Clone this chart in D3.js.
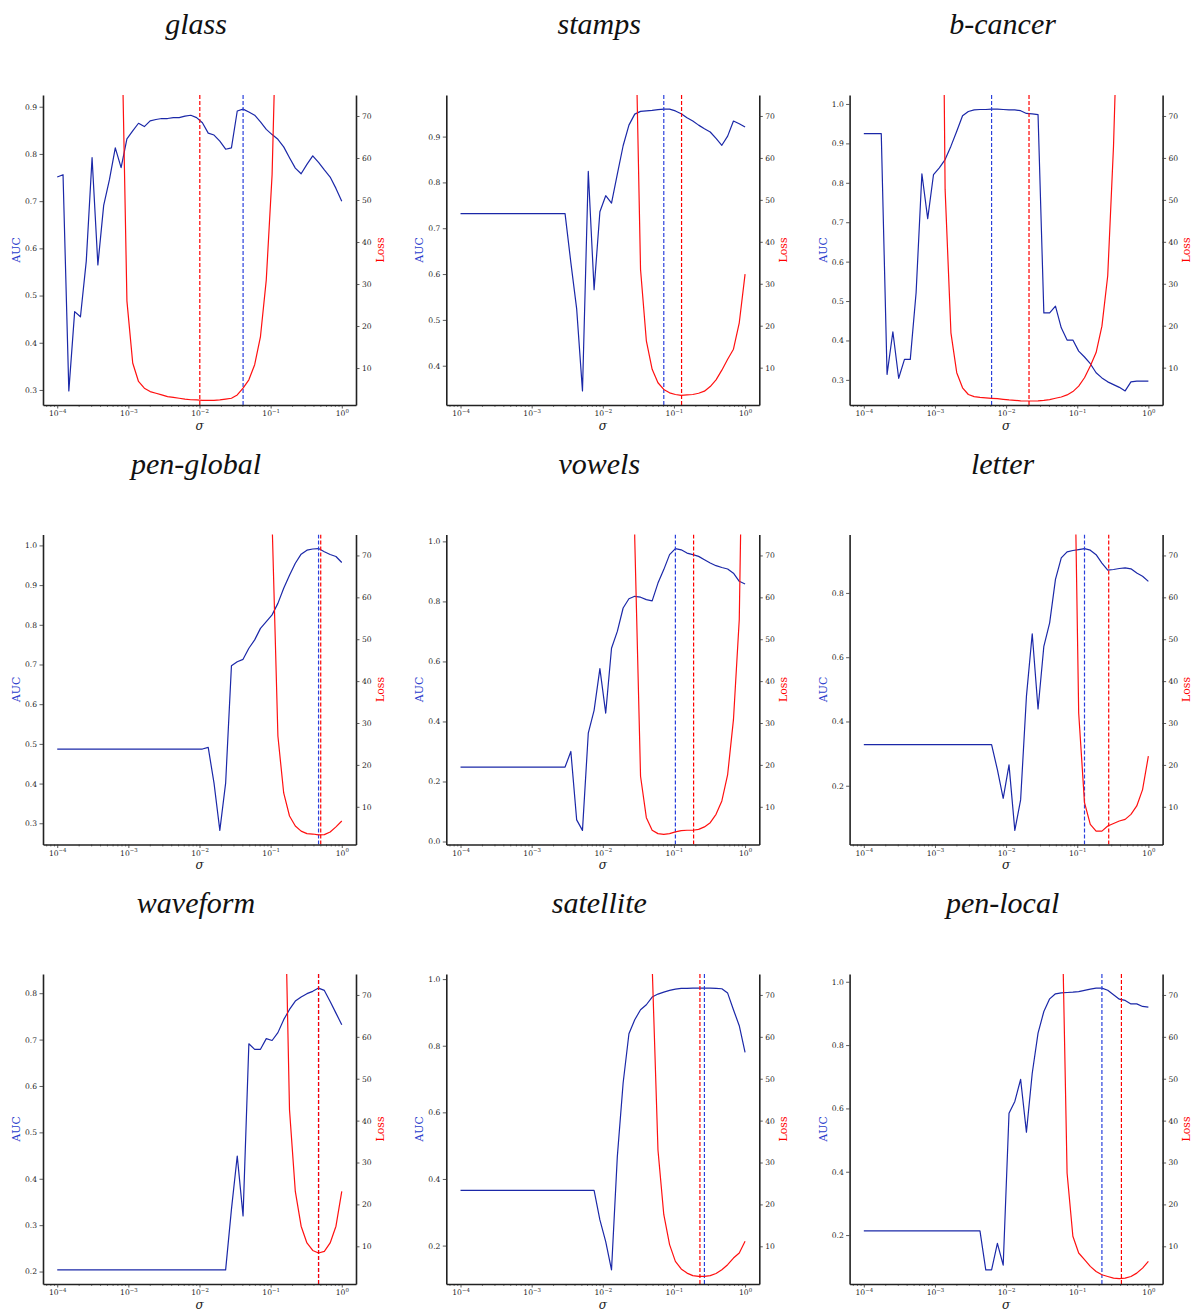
<!DOCTYPE html>
<html>
<head>
<meta charset="utf-8">
<script src="https://cdn.jsdelivr.net/npm/d3@7"></script>
<style>
  body { margin: 0; background: #fff; }
  svg { display: block; }
</style>
</head>
<body>
<svg id="fig" width="1192" height="1310"></svg>
<script>
// Kernel width grid (50 log-spaced values from 1e-4 to 1)
const sigma = [
  1.000e-4, 1.207e-4, 1.456e-4, 1.758e-4, 2.121e-4, 2.560e-4, 3.089e-4, 3.728e-4, 4.498e-4, 5.429e-4,
  6.551e-4, 7.906e-4, 9.541e-4, 1.151e-3, 1.389e-3, 1.677e-3, 2.024e-3, 2.442e-3, 2.947e-3, 3.556e-3,
  4.292e-3, 5.179e-3, 6.251e-3, 7.543e-3, 9.103e-3, 1.099e-2, 1.326e-2, 1.600e-2, 1.931e-2, 2.330e-2,
  2.812e-2, 3.393e-2, 4.095e-2, 4.942e-2, 5.964e-2, 7.197e-2, 8.685e-2, 1.048e-1, 1.265e-1, 1.526e-1,
  1.842e-1, 2.223e-1, 2.683e-1, 3.237e-1, 3.907e-1, 4.715e-1, 5.690e-1, 6.866e-1, 8.286e-1, 1.000
];

const datasets = ["glass", "stamps", "b-cancer", "pen-global", "vowels", "letter", "waveform", "satellite", "pen-local"];

// AUC per sigma
const aucGlass = [
  0.751,0.756,0.298,0.466,0.455,0.573,0.792,0.565,0.691,0.746,
  0.813,0.771,0.832,0.849,0.865,0.858,0.870,0.873,0.875,0.875,
  0.877,0.877,0.880,0.882,0.877,0.866,0.844,0.840,0.827,0.810,
  0.813,0.891,0.895,0.889,0.882,0.868,0.852,0.841,0.831,0.815,
  0.792,0.770,0.758,0.778,0.796,0.782,0.766,0.751,0.727,0.700
];
const aucStamps = [
  0.732,0.732,0.732,0.732,0.732,0.732,0.732,0.732,0.732,0.732,
  0.732,0.732,0.732,0.732,0.732,0.732,0.732,0.732,0.732,0.625,
  0.524,0.345,0.824,0.566,0.736,0.771,0.755,0.818,0.880,0.925,
  0.949,0.955,0.956,0.957,0.959,0.960,0.960,0.956,0.950,0.941,
  0.934,0.925,0.917,0.910,0.896,0.881,0.901,0.934,0.928,0.921
];
const aucBcancer = [
  0.925,0.925,0.925,0.925,0.314,0.422,0.304,0.352,0.352,0.521,
  0.823,0.709,0.821,0.838,0.859,0.893,0.931,0.970,0.981,0.985,
  0.986,0.986,0.987,0.987,0.986,0.985,0.985,0.983,0.976,0.975,
  0.973,0.470,0.470,0.487,0.432,0.401,0.401,0.373,0.358,0.341,
  0.318,0.305,0.295,0.288,0.281,0.272,0.295,0.297,0.297,0.297
];
const aucPenGlobal = [
  0.487,0.487,0.487,0.487,0.487,0.487,0.487,0.487,0.487,0.487,
  0.487,0.487,0.487,0.487,0.487,0.487,0.487,0.487,0.487,0.487,
  0.487,0.487,0.487,0.487,0.487,0.487,0.491,0.401,0.282,0.401,
  0.697,0.707,0.713,0.741,0.762,0.791,0.808,0.825,0.854,0.892,
  0.925,0.955,0.978,0.988,0.991,0.992,0.984,0.977,0.972,0.957
];
const aucVowels = [
  0.248,0.248,0.248,0.248,0.248,0.248,0.248,0.248,0.248,0.248,
  0.248,0.248,0.248,0.248,0.248,0.248,0.248,0.248,0.248,0.300,
  0.072,0.037,0.361,0.437,0.576,0.428,0.644,0.700,0.778,0.809,
  0.817,0.814,0.806,0.802,0.861,0.906,0.956,0.976,0.972,0.961,
  0.956,0.950,0.939,0.928,0.919,0.913,0.908,0.894,0.867,0.858
];
const aucLetter = [
  0.328,0.328,0.328,0.328,0.328,0.328,0.328,0.328,0.328,0.328,
  0.328,0.328,0.328,0.328,0.328,0.328,0.328,0.328,0.328,0.328,
  0.328,0.328,0.328,0.250,0.161,0.265,0.061,0.156,0.478,0.673,
  0.439,0.634,0.707,0.842,0.909,0.928,0.932,0.935,0.938,0.933,
  0.919,0.893,0.871,0.873,0.876,0.878,0.875,0.862,0.852,0.836
];
const aucWaveform = [
  0.2035,0.2035,0.2035,0.2035,0.2035,0.2035,0.2035,0.2035,0.2035,0.2035,
  0.2035,0.2035,0.2035,0.2035,0.2035,0.2035,0.2035,0.2035,0.2035,0.2035,
  0.2035,0.2035,0.2035,0.2035,0.2035,0.2035,0.2035,0.2035,0.2035,0.2035,
  0.334,0.449,0.320,0.691,0.679,0.679,0.702,0.698,0.715,0.743,
  0.765,0.783,0.792,0.799,0.804,0.811,0.806,0.782,0.757,0.732
];
const aucSatellite = [
  0.366,0.366,0.366,0.366,0.366,0.366,0.366,0.366,0.366,0.366,
  0.366,0.366,0.366,0.366,0.366,0.366,0.366,0.366,0.366,0.366,
  0.366,0.366,0.366,0.366,0.277,0.212,0.127,0.467,0.688,0.836,
  0.878,0.908,0.923,0.946,0.955,0.961,0.966,0.970,0.972,0.972,
  0.973,0.973,0.973,0.973,0.972,0.971,0.958,0.908,0.860,0.780
];
const aucPenLocal = [
  0.213,0.213,0.213,0.213,0.213,0.213,0.213,0.213,0.213,0.213,
  0.213,0.213,0.213,0.213,0.213,0.213,0.213,0.213,0.213,0.213,
  0.213,0.090,0.090,0.174,0.105,0.585,0.622,0.692,0.525,0.711,
  0.838,0.906,0.946,0.962,0.965,0.966,0.967,0.969,0.973,0.977,
  0.980,0.980,0.973,0.959,0.945,0.941,0.930,0.930,0.922,0.920
];

// Loss per sigma (null where the loss was not recorded / far off the axis)
const lossGlass = [
  null,null,null,null,null,null,null,null,null,null,
  null,100,26,11.2,6.8,5.2,4.4,4.0,3.6,3.2,
  3.0,2.8,2.6,2.45,2.4,2.3,2.3,2.3,2.4,2.6,
  2.8,3.6,5.2,7.2,10.8,17.5,31,56,110,null,
  null,null,null,null,null,null,null,null,null,null
];
const lossStamps = [
  null,null,null,null,null,null,null,null,null,null,
  null,null,null,null,null,null,null,null,null,null,
  null,null,null,null,null,null,null,null,null,null,
  103,33.4,16.4,9.6,6.4,4.8,4.0,3.6,3.4,3.5,
  3.6,3.9,4.4,5.5,7.1,9.4,12,14.4,20.7,32.3
];
const lossBcancer = [
  null,null,null,null,null,null,null,null,null,null,
  null,null,null,200,52.5,18.3,8.8,5.2,3.6,3.1,
  2.9,2.8,2.7,2.6,2.45,2.3,2.2,2.1,2.05,2.05,
  2.1,2.2,2.4,2.7,3.0,3.5,4.3,5.6,7.6,10.4,
  13.6,19.9,31.9,62.9,110,null,null,null,null,null
];
const lossPenGlobal = [
  null,null,null,null,null,null,null,null,null,null,
  null,null,null,null,null,null,null,null,null,null,
  null,null,null,null,null,null,null,null,null,null,
  null,null,null,null,null,null,150,78,26.9,13.3,
  7.8,5.4,4.2,3.6,3.5,3.3,3.35,4.0,5.2,6.6
];
const lossVowels = [
  null,null,null,null,null,null,null,null,null,null,
  null,null,null,null,null,null,null,null,null,null,
  null,null,null,null,null,null,null,null,null,200,
  74,17.3,7.4,4.4,3.6,3.4,3.6,4.0,4.3,4.4,
  4.4,4.6,5.2,6.2,8.2,11.4,17.7,30.8,54.7,143
];
const lossLetter = [
  null,null,null,null,null,null,null,null,null,null,
  null,null,null,null,null,null,null,null,null,null,
  null,null,null,null,null,null,null,null,null,null,
  null,null,null,null,null,null,121,32.4,11,5.8,
  4.2,4.2,5.4,6.0,6.6,7.0,8.2,10.2,14.1,22.1
];
const lossWaveform = [
  null,null,null,null,null,null,null,null,null,null,
  null,null,null,null,null,null,null,null,null,null,
  null,null,null,null,null,null,null,null,null,null,
  null,null,null,null,null,null,null,null,null,110,
  42.6,23.1,14.8,10.8,9.0,8.4,8.8,10.8,14.8,23.1
];
const lossSatellite = [
  null,null,null,null,null,null,null,null,null,null,
  null,null,null,null,null,null,null,null,null,null,
  null,null,null,null,null,null,null,null,null,null,
  null,null,140,77,33,17.6,10.4,6.4,4.6,3.6,
  3.0,2.8,2.8,3.0,3.5,4.4,5.6,7.2,8.4,11.2
];
const lossPenLocal = [
  null,null,null,null,null,null,null,null,null,null,
  null,null,null,null,null,null,null,null,null,null,
  null,null,null,null,null,null,null,null,null,null,
  null,null,null,null,100,27.5,12.4,8.4,6.8,5.2,
  4.0,3.2,2.8,2.4,2.3,2.4,2.8,3.6,4.8,6.4
];

// Selected sigma values (dashed markers)
const bestAucSigma  = [0.0410, 0.0720, 0.00625, 0.4715, 0.1048, 0.1265, 0.4715, 0.2683, 0.2223];
const bestLossSigma = [0.0101, 0.128, 0.021, 0.506, 0.189, 0.277, 0.4715, 0.232, 0.418];

// Axis ticks
const aucTicks = [
  [0.3, 0.4, 0.5, 0.6, 0.7, 0.8, 0.9],
  [0.4, 0.5, 0.6, 0.7, 0.8, 0.9],
  [0.3, 0.4, 0.5, 0.6, 0.7, 0.8, 0.9, 1.0],
  [0.3, 0.4, 0.5, 0.6, 0.7, 0.8, 0.9, 1.0],
  [0.0, 0.2, 0.4, 0.6, 0.8, 1.0],
  [0.2, 0.4, 0.6, 0.8],
  [0.2, 0.3, 0.4, 0.5, 0.6, 0.7, 0.8],
  [0.2, 0.4, 0.6, 0.8, 1.0],
  [0.2, 0.4, 0.6, 0.8, 1.0]
];
const lossTicks = [10, 20, 30, 40, 50, 60, 70];
const lossFloor = [1.2, 1.1, 1.1, 1.0, 1.0, 1.0, 1.0, 1.0, 1.0];
const lossCeil = 75;
const xTickExponents = [-4, -3, -2, -1, 0];

const aucSeries  = [aucGlass, aucStamps, aucBcancer, aucPenGlobal, aucVowels, aucLetter, aucWaveform, aucSatellite, aucPenLocal];
const lossSeries = [lossGlass, lossStamps, lossBcancer, lossPenGlobal, lossVowels, lossLetter, lossWaveform, lossSatellite, lossPenLocal];

const AUC_LINE = "#1b28a8", AUC_DASH = "#2a40dc", AUC_LABEL = "#2a3ccc";
const LOSS_LINE = "#ff1010", LOSS_DASH = "#ff0000";
const TICK_FONT = "DejaVu Serif";
const TICK_COLOR = "#262626";
const TICK_SIZE = 7.6;

const svg = d3.select("#fig");
const W = 313, H = 310;

function styleAxis(g) {
  g.selectAll(".domain").attr("stroke", "#222").attr("stroke-width", 1.6);
  g.selectAll(".tick line").attr("stroke", "#333").attr("stroke-width", 0.8);
  g.selectAll(".tick text").attr("fill", TICK_COLOR)
    .attr("font-family", TICK_FONT).attr("font-size", TICK_SIZE);
}

datasets.forEach((name, i) => {
  const col = i % 3, row = Math.floor(i / 3);
  const left = 43 + 403.3 * col;
  const top = 95 + 439.5 * row;
  const g = svg.append("g").attr("transform", `translate(${left},${top})`);

  const x = d3.scaleLog().domain([Math.pow(10, -4.2), Math.pow(10, 0.2)]).range([0, W]);
  const ext = d3.extent(aucSeries[i]);
  const pad = 0.05 * (ext[1] - ext[0]);
  const yA = d3.scaleLinear().domain([ext[0] - pad, ext[1] + pad]).range([H, 0]);
  const yL = d3.scaleLinear().domain([lossFloor[i], lossCeil]).range([H, 0]);

  const clipId = "clip" + i;
  g.append("clipPath").attr("id", clipId)
    .append("rect").attr("x", 0).attr("y", 0).attr("width", W).attr("height", H);
  const plot = g.append("g").attr("clip-path", `url(#${clipId})`);

  // AUC curve
  const aucLine = d3.line().x((d, k) => x(sigma[k])).y(d => yA(d));
  plot.append("path").datum(aucSeries[i])
    .attr("d", aucLine).attr("fill", "none")
    .attr("stroke", AUC_LINE).attr("stroke-width", 1.2).attr("stroke-linejoin", "round");
  plot.append("line")
    .attr("x1", x(bestAucSigma[i])).attr("x2", x(bestAucSigma[i]))
    .attr("y1", 0).attr("y2", H)
    .attr("stroke", AUC_DASH).attr("stroke-width", 1.2).attr("stroke-dasharray", "4,2");

  // Loss curve (twin axis)
  const lossLine = d3.line().defined(d => d != null).x((d, k) => x(sigma[k])).y(d => yL(d));
  plot.append("path").datum(lossSeries[i])
    .attr("d", lossLine).attr("fill", "none")
    .attr("stroke", LOSS_LINE).attr("stroke-width", 1.2).attr("stroke-linejoin", "round");
  plot.append("line")
    .attr("x1", x(bestLossSigma[i])).attr("x2", x(bestLossSigma[i]))
    .attr("y1", 0).attr("y2", H)
    .attr("stroke", LOSS_DASH).attr("stroke-width", 1.2).attr("stroke-dasharray", "4,2");

  // x axis: minor ticks
  const minors = [];
  for (let e = -5; e <= 0; e++) {
    for (let m = 2; m <= 9; m++) {
      const v = m * Math.pow(10, e);
      if (v > x.domain()[0] && v < x.domain()[1]) minors.push(v);
    }
  }
  const gxMinor = g.append("g").attr("transform", `translate(0,${H})`)
    .call(d3.axisBottom(x).tickValues(minors).tickSize(2).tickSizeOuter(0).tickFormat(""));
  gxMinor.select(".domain").remove();
  gxMinor.selectAll(".tick line").attr("stroke", "#333").attr("stroke-width", 0.6);

  // x axis: decades
  const majors = xTickExponents.map(e => Math.pow(10, e));
  const gx = g.append("g").attr("transform", `translate(0,${H})`)
    .call(d3.axisBottom(x).tickValues(majors).tickSize(3.5).tickSizeOuter(0).tickPadding(2.3));
  styleAxis(gx);
  gx.selectAll(".tick text").each(function (d) {
    const e = Math.round(Math.log10(d));
    const t = d3.select(this);
    t.text(null);
    t.append("tspan").text("10");
    t.append("tspan").attr("dy", -3.4).attr("font-size", 5.4)
      .text(e === 0 ? "0" : "\u2212" + Math.abs(e));
  });

  // left AUC axis
  const gy = g.append("g")
    .call(d3.axisLeft(yA).tickValues(aucTicks[i]).tickSize(3.5).tickSizeOuter(0)
      .tickPadding(2.4).tickFormat(d3.format(".1f")));
  styleAxis(gy);

  // right Loss axis
  const gr = g.append("g").attr("transform", `translate(${W},0)`)
    .call(d3.axisRight(yL).tickValues(lossTicks).tickSize(3.5).tickSizeOuter(0)
      .tickPadding(2.4).tickFormat(d3.format("d")));
  styleAxis(gr);

  // axis labels
  g.append("text")
    .attr("transform", `translate(${-26.5},${H / 2}) rotate(-90)`)
    .attr("text-anchor", "middle").attr("dominant-baseline", "central")
    .attr("font-family", TICK_FONT).attr("font-size", 11)
    .attr("fill", AUC_LABEL).text("AUC");
  g.append("text")
    .attr("transform", `translate(${W + 24},${H / 2}) rotate(-90)`)
    .attr("text-anchor", "middle").attr("dominant-baseline", "central")
    .attr("font-family", TICK_FONT).attr("font-size", 11)
    .attr("fill", "#ff0000").text("Loss");
  g.append("text")
    .attr("x", W / 2).attr("y", H + 24.5)
    .attr("text-anchor", "middle")
    .attr("font-family", TICK_FONT).attr("font-style", "italic").attr("font-size", 12)
    .attr("fill", "#222").text("\u03c3");

  // dataset title
  svg.append("text")
    .attr("x", left + W / 2 - 3.5).attr("y", 34 + 439.5 * row)
    .attr("text-anchor", "middle")
    .attr("font-family", "Liberation Serif").attr("font-style", "italic")
    .attr("font-size", 30).attr("fill", "#111").text(name);
});
</script>
</body>
</html>
